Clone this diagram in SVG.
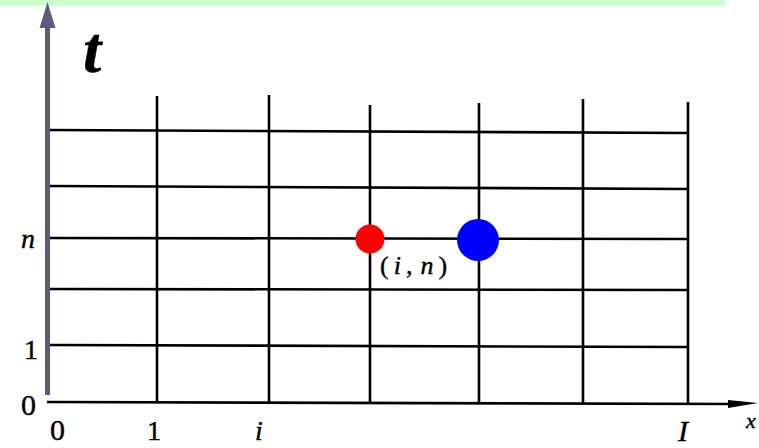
<svg xmlns="http://www.w3.org/2000/svg" width="759" height="448" viewBox="0 0 759 448">
<style>
.g{stroke:#000;stroke-width:2.6;fill:none;stroke-linecap:butt}
.lab{fill:#000;stroke:#000;stroke-width:0.4}
.it{font-style:italic}
</style>
<rect width="759" height="448" fill="#fff"/>
<rect x="0" y="0" width="725" height="6" fill="#ccffcc"/>
<g id="grid">
<line class="g" x1="47" y1="130" x2="689" y2="133"/>
<line class="g" x1="47" y1="186" x2="689" y2="189"/>
<line class="g" x1="47" y1="238" x2="689" y2="239"/>
<line class="g" x1="47" y1="289" x2="689" y2="290"/>
<line class="g" x1="47" y1="345" x2="689" y2="347"/>
<line class="g" x1="157" y1="96" x2="157" y2="403"/>
<line class="g" x1="269" y1="95" x2="269" y2="403"/>
<line class="g" x1="370" y1="105" x2="370" y2="403"/>
<line class="g" x1="479" y1="103" x2="479" y2="403"/>
<line class="g" x1="583" y1="99" x2="583" y2="404"/>
<line class="g" x1="688" y1="102" x2="688" y2="404"/>
</g>
<g id="x-axis">
<line class="g" x1="47" y1="402" x2="735" y2="404"/>
<path d="M728,400 L758,403 L728,408 Z" fill="#000"/>
</g>
<g id="t-axis">
<line x1="47.5" y1="26" x2="47.5" y2="395" stroke="#5b5b7b" stroke-width="5"/>
<path d="M47.5,2 L55.5,28 L39.5,28 Z" fill="#5b5b7b"/>
</g>
<g id="points">
<circle cx="370" cy="239" r="14.5" fill="#ff0000"/>
<circle cx="478" cy="240" r="21" fill="#0000ff"/>
</g>
<g id="labels" font-family="'Liberation Serif', 'DejaVu Serif', serif">
<text class="lab it" x="83" y="72" font-size="66" font-weight="bold">t</text>
<text class="lab it" x="21" y="248" font-size="28">n</text>
<text class="lab" x="24" y="359" font-size="28">1</text>
<text class="lab" x="21" y="415" font-size="30">0</text>
<text class="lab" x="50" y="440" font-size="30">0</text>
<text class="lab" x="147" y="440" font-size="28">1</text>
<text class="lab it" x="255" y="440" font-size="28">i</text>
<text class="lab it" x="678" y="441" font-size="30">I</text>
<text class="lab it" x="746" y="428" font-size="22">x</text>
<text class="lab" x="380" y="274" font-size="26" letter-spacing="5">(<tspan class="it">i</tspan>,<tspan class="it" dx="3">n</tspan>)</text>
</g>
</svg>
